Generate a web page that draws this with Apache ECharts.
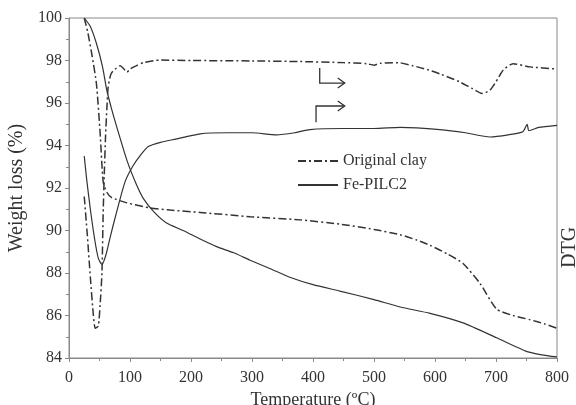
<!DOCTYPE html>
<html>
<head>
<meta charset="utf-8">
<script src="https://cdn.jsdelivr.net/npm/echarts@6/dist/echarts.min.js"></script>
<style>
  html, body { margin: 0; padding: 0; background: #fff; }
  #chart { width: 576px; height: 405px; }
</style>
</head>
<body>
<div id="chart"></div>
<script>
// temperature (C) / weight (%) pairs
var tgClay = [[25,100],[31,99.3],[38,98.2],[45,96.9],[51,94.6],[56,92.3],[62,91.8],[70,91.55],[95,91.3],[133,91.06],[166,90.96],[215,90.85],[297,90.65],[379,90.5],[444,90.3],[500,90.05],[543,89.8],[570,89.55],[592,89.3],[620,88.9],[646,88.45],[674,87.5],[701,86.3],[728,86.0],[756,85.8],[780,85.6],[800,85.4]];
var tgPilc = [[25,100],[35,99.6],[45,98.8],[55,97.7],[62,96.6],[70,95.7],[78,94.9],[95,93.3],[110,92.2],[122,91.5],[140,90.85],[160,90.35],[187,90.0],[215,89.6],[242,89.24],[270,88.95],[297,88.6],[330,88.2],[362,87.8],[400,87.45],[444,87.15],[500,86.75],[543,86.4],[592,86.1],[646,85.65],[701,84.95],[751,84.3],[775,84.15],[800,84.05]];
var dtgClay = [[25,91.6],[30,89.8],[35,87.8],[40,86.0],[43,85.4],[48,85.5],[51,86.5],[54,88.0],[56,90.8],[58,92.8],[60,94.5],[62,95.7],[64,96.7],[68,97.3],[72,97.5],[84,97.75],[90,97.6],[95,97.45],[100,97.6],[110,97.75],[122,97.9],[149,98.02],[200,98.0],[300,97.98],[379,97.95],[450,97.9],[488,97.85],[500,97.78],[510,97.87],[540,97.9],[564,97.75],[590,97.55],[610,97.35],[640,97.0],[660,96.7],[677,96.45],[690,96.6],[700,97.0],[712,97.55],[728,97.85],[756,97.7],[800,97.6]];
var dtgPilc = [[25,93.5],[29,92.4],[35,91.0],[42,89.6],[48,88.7],[54,88.4],[60,88.8],[66,89.5],[72,90.2],[82,91.3],[92,92.3],[104,93.0],[116,93.5],[130,93.95],[150,94.15],[175,94.3],[215,94.55],[260,94.6],[300,94.6],[340,94.5],[370,94.6],[395,94.75],[450,94.8],[500,94.8],[543,94.85],[608,94.75],[650,94.6],[690,94.4],[720,94.5],[744,94.65],[751,95.0],[754,94.7],[770,94.85],[800,94.95]];
var legendNames = ['Original clay', 'Fe-PILC2'];
// arrow paths pointing to the DTG axis, in data coords
var arrowDown = [[411,97.65],[411,96.94],[452,96.94]];
var arrowUp = [[405,95.1],[405,95.86],[452,95.86]];

var ink = '#333';
var dashDot = [8, 3, 2, 3];
var font = 'Liberation Serif';

var chart = echarts.init(document.getElementById('chart'));

function lineSeries(name, data, dashed) {
  return {
    name: name,
    type: 'line',
    data: data,
    symbol: 'none',
    smooth: 0.2,
    animation: false,
    lineStyle: { color: ink, width: dashed ? 1.5 : 1.2, type: dashed ? dashDot : 'solid' },
    itemStyle: { color: ink }
  };
}

var option = {
  animation: false,
  textStyle: { fontFamily: font },
  grid: {
    left: 69, right: 19, top: 18, bottom: 47,
    outerBoundsMode: 'none',
    show: true, borderColor: '#888', borderWidth: 1
  },
  legend: {
    data: legendNames,
    orient: 'vertical',
    left: 297,
    top: 153,
    padding: 0,
    itemWidth: 40,
    itemHeight: 10,
    itemGap: 8,
    itemStyle: { opacity: 0 },
    textStyle: { fontFamily: font, fontSize: 16, color: ink }
  },
  xAxis: {
    type: 'value',
    min: 0, max: 800, interval: 100,
    name: 'Temperature (\u00baC)',
    nameLocation: 'middle',
    nameGap: 30,
    nameTextStyle: { fontFamily: font, fontSize: 18, color: ink },
    axisLine: { lineStyle: { color: '#888' } },
    axisTick: { show: true, length: 4, lineStyle: { color: '#888' } },
    minorTick: { show: true, splitNumber: 2, length: 3, lineStyle: { color: '#888' } },
    axisLabel: { fontFamily: font, fontSize: 16, color: ink, margin: 12 },
    splitLine: { show: false }
  },
  yAxis: {
    type: 'value',
    min: 84, max: 100, interval: 2,
    name: 'Weight loss (%)',
    nameLocation: 'middle',
    nameGap: 39,
    nameTextStyle: { fontFamily: font, fontSize: 20, color: ink },
    axisLine: { show: true, lineStyle: { color: '#888' } },
    axisTick: { show: true, length: 4, lineStyle: { color: '#888' } },
    minorTick: { show: true, splitNumber: 2, length: 3, lineStyle: { color: '#888' } },
    axisLabel: { fontFamily: font, fontSize: 16, color: ink, margin: 7 },
    splitLine: { show: false }
  },
  series: [
    lineSeries(legendNames[0], tgClay, true),
    lineSeries(legendNames[1], tgPilc, false),
    lineSeries('Original clay DTG', dtgClay, true),
    lineSeries('Fe-PILC2 DTG', dtgPilc, false)
  ]
};
chart.setOption(option);

function toPx(list) {
  return list.map(function (p) { return chart.convertToPixel({ gridIndex: 0 }, p); });
}
function arrowGraphics(path) {
  var pts = toPx(path);
  var tip = pts[pts.length - 1];
  return [
    { type: 'polyline', shape: { points: pts }, style: { stroke: ink, lineWidth: 1.3, fill: null } },
    { type: 'polyline', shape: { points: [[tip[0] - 7, tip[1] - 5], tip, [tip[0] - 7, tip[1] + 5]] }, style: { stroke: ink, lineWidth: 1.3, fill: null } }
  ];
}
chart.setOption({
  graphic: arrowGraphics(arrowDown).concat(arrowGraphics(arrowUp)).concat([
    { type: 'text', x: 560, y: 268, rotation: Math.PI / 2,
      style: { text: 'DTG', font: '20px "Liberation Serif"', fill: ink } }
  ])
});
</script>
</body>
</html>
